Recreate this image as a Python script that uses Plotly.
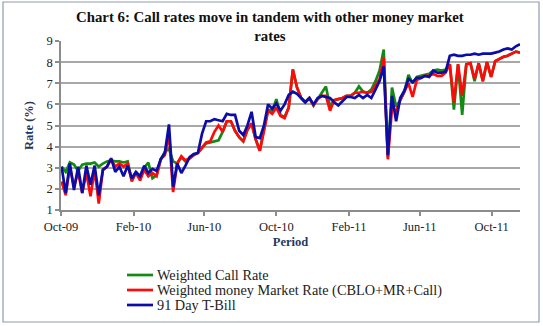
import pandas as pd
import plotly.graph_objects as go

start_date = "2009-10-02"
n_weeks = 112

call_rate = [
    3.05, 2.8, 3.25, 3.15, 2.85, 3.15, 3.2, 3.2, 3.25, 3.05,
    3.2, 3.3, 3.35, 3.3, 3.3, 3.25, 3.3, 2.4, 2.8, 2.5,
    3.0, 3.25, 2.5, 2.65, 3.4, 3.75, 3.9, 3.3, 3.2, 3.5,
    3.3, 3.45, 3.6, 3.7, 3.9, 4.15, 4.2, 4.25, 4.3, 4.7,
    5.2, 5.2, 4.75, 4.45, 4.25, 4.8, 5.1, 4.35, 3.8, 4.8,
    5.75, 5.7, 6.25, 5.5, 5.4, 5.85, 7.65, 6.8, 6.3, 6.1,
    6.3, 5.95, 6.25, 6.6, 6.85, 5.9, 6.2, 6.25, 6.3, 6.4,
    6.4, 6.55, 6.85, 6.6, 6.55, 6.7, 7.1, 7.6, 8.6, 3.5,
    6.8, 5.9, 6.2, 6.6, 7.4, 7.0, 7.3, 7.35, 7.4, 7.45,
    7.6, 7.65, 7.6, 7.65, 7.9, 5.75, 7.9, 5.5, 7.9, 7.95,
    7.1, 7.95, 7.1, 8.0, 7.3, 8.05, 8.15, 8.25, 8.3, 8.4,
    8.5, 8.45,
]

money_market_rate = [
    2.35, 1.7, 3.05, 2.1, 2.8, 1.8, 2.75, 1.65, 2.9, 1.3,
    2.9, 3.05, 3.4, 3.05, 3.2, 3.05, 3.2, 2.35, 2.75, 2.4,
    2.9, 2.6, 2.75, 2.6, 3.4, 3.6, 4.6, 1.85, 3.2, 3.55,
    3.35, 3.45, 3.6, 3.7, 3.95, 4.2, 4.25, 4.7, 5.0, 4.7,
    5.2, 5.2, 4.75, 4.45, 4.25, 4.8, 5.1, 4.35, 3.8, 4.8,
    5.7, 5.55, 5.85, 5.45, 5.35, 5.85, 7.65, 6.8, 6.3, 6.1,
    6.3, 5.95, 6.25, 6.4, 6.4, 5.7, 6.2, 6.25, 6.3, 6.4,
    6.4, 6.55, 6.55, 6.6, 6.55, 6.6, 6.9, 7.2, 8.2, 3.4,
    5.8, 5.7, 6.2, 6.6, 7.0, 6.35, 7.15, 7.25, 7.35, 7.35,
    7.45, 7.35, 7.35, 7.5, 7.9, 6.1, 7.9, 6.4, 7.9, 7.95,
    7.2, 7.95, 7.1, 8.0, 7.3, 8.05, 8.15, 8.25, 8.3, 8.4,
    8.5, 8.45,
]

tbill_91 = [
    3.05, 1.8, 3.2, 1.95, 3.05, 1.8, 3.1, 2.2, 3.1, 1.7,
    2.9, 3.05, 3.45, 2.8, 3.05, 2.6, 3.1, 2.5, 2.8, 2.6,
    3.1, 2.75, 2.95, 2.85, 3.4, 3.7, 5.05, 2.1, 3.2, 2.75,
    3.1, 3.5, 3.65, 3.7, 4.6, 5.2, 5.2, 5.3, 5.25, 5.2,
    5.55, 5.5, 5.5, 4.75, 4.55, 5.0, 5.65, 4.45, 4.4, 5.0,
    6.0, 5.8, 6.05, 5.7, 6.0, 6.45, 6.6, 6.5, 6.3, 6.1,
    6.3, 6.0, 6.3, 6.4, 6.35, 6.3, 6.1, 5.95, 6.15, 6.35,
    6.35, 6.3, 6.45, 6.3, 6.45, 6.3, 6.7, 7.1, 7.8, 3.6,
    6.4, 5.2, 6.3, 6.65, 7.2, 7.05, 7.25, 7.25, 7.35, 7.3,
    7.6, 7.5, 7.5, 7.55, 8.3, 8.35, 8.3, 8.3, 8.35, 8.35,
    8.4, 8.35, 8.4, 8.4, 8.4, 8.45, 8.5, 8.6, 8.65, 8.6,
    8.75, 8.85,
]

tick_dates = ["2009-10-01", "2010-02-01", "2010-06-01", "2010-10-01", "2011-02-01", "2011-06-01", "2011-10-01"]
tick_labels = ["Oct-09", "Feb-10", "Jun-10", "Oct-10", "Feb-11", "Jun-11", "Oct-11"]
y_ticks = [1, 2, 3, 4, 5, 6, 7, 8, 9]

series_names = ["Weighted Call Rate", "Weighted money Market Rate (CBLO+MR+Call)", "91 Day T-Bill"]
series_colors = ["#138a13", "#ff0a0a", "#0c0ca6"]

dates = pd.date_range(start_date, periods=n_weeks, freq="7D")

fig = go.Figure()
for name, vals, col in zip(series_names, [call_rate, money_market_rate, tbill_91], series_colors):
    fig.add_trace(go.Scatter(x=dates, y=vals, mode="lines", name=name,
                             line=dict(color=col, width=2.7), showlegend=False))

serif = "Liberation Serif, Times New Roman, serif"
navy = "#1f3a60"

W, H = 543, 326
ml, mr, mt, mb = 61, 23, 41, 116
pw, ph = W - ml - mr, H - mt - mb

def px_x(px):
    return (px - ml) / pw

def px_y(py):
    return (H - mb - py) / ph

shapes = [dict(type="rect", xref="paper", yref="paper",
               x0=px_x(3), x1=px_x(539), y0=px_y(322), y1=px_y(2),
               line=dict(color="#8e9cb0", width=1.2), fillcolor="rgba(0,0,0,0)", layer="below")]
annotations = []
legend_rows = [275, 290, 305]
for name, col, ry in zip(series_names, series_colors, legend_rows):
    shapes.append(dict(type="line", xref="paper", yref="paper",
                       x0=px_x(127), x1=px_x(153), y0=px_y(ry), y1=px_y(ry),
                       line=dict(color=col, width=2.7)))
    annotations.append(dict(text=name, xref="paper", yref="paper",
                            x=px_x(155), y=px_y(ry), xanchor="left", yanchor="middle",
                            showarrow=False, font=dict(family=serif, size=14.3, color="#222222")))

fig.update_layout(
    width=W, height=H,
    margin=dict(l=ml, r=mr, t=mt, b=mb, autoexpand=False),
    paper_bgcolor="white", plot_bgcolor="white",
    font=dict(family=serif, size=12, color="#222222"),
    title=dict(text="<b>Chart 6: Call rates move in tandem with other money market<br>rates</b>",
               x=0.497, xanchor="center", y=1 - 22 / H, yanchor="top",
               font=dict(family=serif, size=14.8, color="#111111")),
    showlegend=False,
    xaxis=dict(type="date", range=["2009-10-01", dates[-1]],
               tickvals=tick_dates, ticktext=tick_labels,
               showgrid=False, zeroline=False,
               showline=True, linecolor="#8c8c8c", linewidth=1.5,
               ticks="outside", ticklen=4, tickcolor="#8c8c8c", tickwidth=1.5,
               tickfont=dict(family=serif, size=12.5, color="#222222"),
               title=dict(text="<b>Period</b>", font=dict(family=serif, size=12.5, color=navy), standoff=4)),
    yaxis=dict(range=[1, 9], tickvals=y_ticks, showgrid=True, gridcolor="#a8a8a8", gridwidth=1.5,
               zeroline=False, showline=True, linecolor="#8c8c8c", linewidth=1.5,
               ticks="outside", ticklen=4, tickcolor="#8c8c8c", tickwidth=1.5,
               tickfont=dict(family=serif, size=12.5, color="#222222"),
               title=dict(text="<b>Rate (%)</b>", font=dict(family=serif, size=12.5, color=navy), standoff=10)),
    shapes=shapes,
    annotations=annotations,
)

fig.write_html("out.html")
